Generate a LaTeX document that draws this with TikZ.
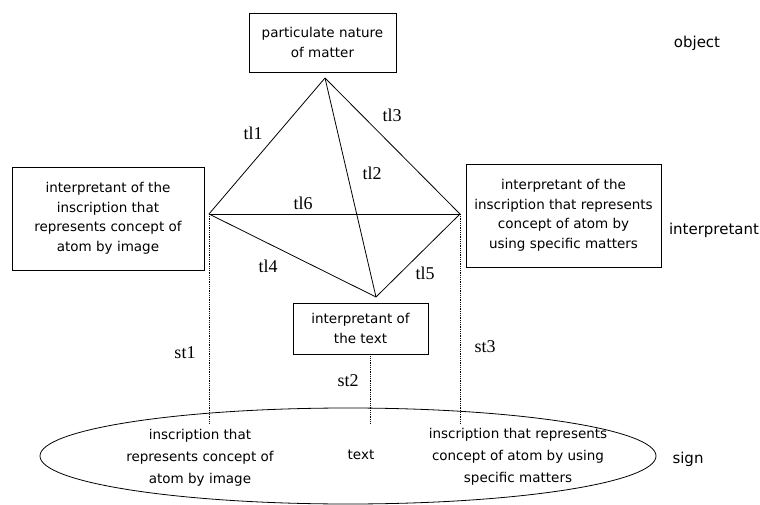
\documentclass[tikz,border=0pt]{standalone}
\usepackage{fontspec}
\setmainfont{Liberation Serif}
\setsansfont{DejaVu Sans}
\usetikzlibrary{shapes.geometric}
\tikzstyle{concept} = [
    rectangle,
    draw=black,
    line width=0.8pt,
    inner sep=0pt,
    align=center,
    font=\sffamily\fontsize{13.5}{19.5}\selectfont
]
\tikzstyle{signtext} = [
    align=center,
    font=\sffamily\fontsize{13.5}{22}\selectfont
]
\tikzstyle{level} = [
    font=\sffamily\fontsize{15}{18}\selectfont
]
\tikzstyle{edgename} = [
    font=\fontsize{18}{20}\selectfont
]
\tikzstyle{tline} = [
    line width=0.8pt
]
\tikzstyle{sline} = [
    line width=0.8pt,
    densely dotted
]

\begin{document}
\begin{tikzpicture}[
    x=1pt,
    y=-1pt
]

\useasboundingbox (0,0) rectangle (760,505);

\node (object) [concept, minimum width=147, minimum height=59] at (322.5,42.5)
{particulate nature\\of matter};

\node (image) [concept, minimum width=192, minimum height=103] at (108,218.5)
{interpretant of the\\inscription that\\represents concept of\\atom by image};

\node (matters) [concept, minimum width=195, minimum height=103] at (563.5,215.5)
{interpretant of the\\inscription that represents\\concept of atom by\\using specific matters};

\node (text) [concept, minimum width=135, minimum height=51] at (360.5,328.5)
{interpretant of\\the text};

\node (sign) [ellipse, draw, line width=0.8pt, minimum width=616, minimum height=96] at (348,456)
{};

\node (signimage) [signtext] at (200,458)
{inscription that\\represents concept of\\atom by image};

\node (signtext) [signtext] at (361,455)
{text};

\node (signmatters) [signtext] at (518,457)
{inscription that represents\\concept of atom by using\\specific matters};

% levels
\node (lobject) [level] at (697,43) {object};
\node (linterp) [level] at (714,230) {interpretant};
\node (lsign) [level] at (688,459) {sign};

% corners of the triangle
\coordinate (top) at (325,78);
\coordinate (left) at (209,214);
\coordinate (right) at (460,214);
\coordinate (bottom) at (376,297);

\coordinate (st1end) at (209,423);
\coordinate (st2end) at (370,423);
\coordinate (st3end) at (460,423);

\draw [tline] (top) -- (left);
\draw [tline] (top) -- (right);
\draw [tline] (top) -- (bottom);
\draw [tline] (left) -- (right);
\draw [tline] (left) -- (bottom);
\draw [tline] (right) -- (bottom);

\draw [sline] (left) -- (st1end);
\draw [sline] (text.south -| st2end) -- (st2end);
\draw [sline] (right) -- (st3end);

\node (tl1) [edgename] at (253,133) {tl1};
\node (tl2) [edgename] at (372,173) {tl2};
\node (tl3) [edgename] at (392,115) {tl3};
\node (tl4) [edgename] at (268,266) {tl4};
\node (tl5) [edgename] at (425,273) {tl5};
\node (tl6) [edgename] at (303,203) {tl6};

\node (st1) [edgename] at (185,353) {st1};
\node (st2) [edgename] at (348,381) {st2};
\node (st3) [edgename] at (485,347) {st3};

\end{tikzpicture}
\end{document}
